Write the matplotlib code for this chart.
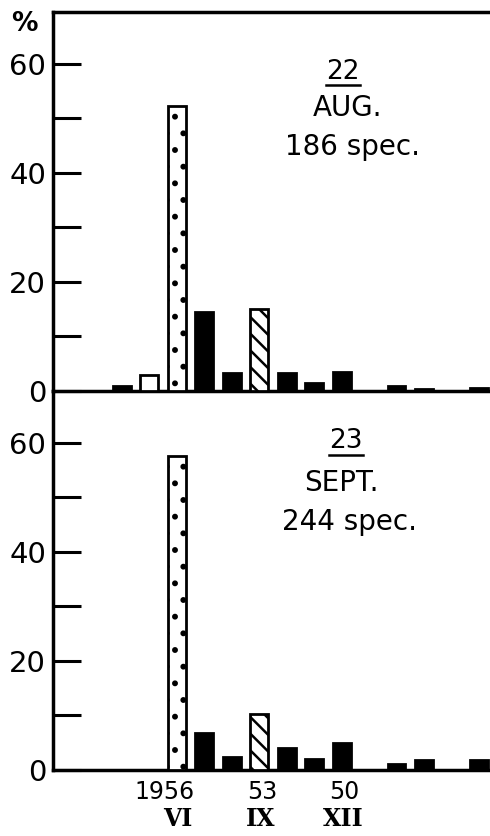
import matplotlib
matplotlib.use("Agg")
import matplotlib.pyplot as plt
from matplotlib.lines import Line2D

plt.rcParams['hatch.linewidth'] = 1.8

# ---- data ----
positions = list(range(14))  # class index along x
aug_values = [1.0, 3.0, 52.3, 14.5, 3.3, 15.0, 3.3, 1.5, 3.5, 0.0, 1.0, 0.4, 0.0, 0.5]
sept_values = [0.0, 0.0, 57.5, 6.8, 2.3, 10.3, 4.0, 2.0, 5.0, 0.0, 1.1, 1.8, 0.0, 1.8]
bar_styles = ['solid', 'open', 'dotted', 'solid', 'solid', 'hatched', 'solid',
              'solid', 'solid', 'solid', 'solid', 'solid', 'solid', 'solid']
yticks_major = [0, 20, 40, 60]
yticks_minor = [10, 30, 50]
year_labels = ['1956', '53', '50']
year_pos = [2, 5, 8]
roman_labels = ['VI', 'IX', 'XII']
panel_titles = [('22', 'AUG.', '186 spec.'), ('23', 'SEPT.', '244 spec.')]

W, H = 490, 836
fig = plt.figure(figsize=(W / 100, H / 100), dpi=100)

left = 53 / W
top_base = 1 - 391 / H
top_top = 1 - 12 / H
bot_base = 1 - 770 / H
axh = top_top - top_base
ax_top = fig.add_axes([left, top_base, 1 - left, axh])
ax_bot = fig.add_axes([left, bot_base, 1 - left, top_base - bot_base])

FONT = 'DejaVu Sans'
style_map = {
    'solid': dict(facecolor='black', edgecolor='black', hatch=None),
    'open': dict(facecolor='white', edgecolor='black', hatch=None),
    'dotted': dict(facecolor='white', edgecolor='black', hatch='.'),
    'hatched': dict(facecolor='white', edgecolor='black', hatch='\\\\'),
}

# (x, y) layout of the three annotation lines per panel, axes-x in data units
anno_layout = [
    dict(num=(8.04, 0.842), ul=0.807, mon=(8.2, 0.747), spec=(8.4, 0.644)),
    dict(num=(8.15, 0.868), ul=0.831, mon=(8.0, 0.757), spec=(8.3, 0.654)),
]

for ax, vals, title, lay in [(ax_top, aug_values, panel_titles[0], anno_layout[0]),
                             (ax_bot, sept_values, panel_titles[1], anno_layout[1])]:
    for p, v, s in zip(positions, vals, bar_styles):
        if v <= 0:
            continue
        st = style_map[s]
        ax.bar(p, v, width=0.65, facecolor=st['facecolor'], edgecolor=st['edgecolor'],
               hatch=st['hatch'], linewidth=2.0, zorder=3)
    ax.set_xlim(-2.5, 13.4)
    ax.set_ylim(0, 69.5)
    ax.set_yticks(yticks_major)
    ax.set_yticklabels([str(t) for t in yticks_major], fontsize=21, family=FONT)
    ax.set_yticks(yticks_minor, minor=True)
    ax.tick_params(axis='y', which='both', direction='in', length=20, width=2.2, pad=5)
    ax.set_xticks([])
    ax.spines['right'].set_visible(False)
    for sp in ['left', 'bottom', 'top']:
        ax.spines[sp].set_linewidth(2.5)
    ax.patch.set_alpha(0)
    tr = ax.get_xaxis_transform()
    ax.text(lay['num'][0], lay['num'][1], title[0], transform=tr, ha='center',
            va='center', fontsize=19, family=FONT)
    ax.add_line(Line2D([lay['num'][0] - 0.62, lay['num'][0] + 0.62], [lay['ul'], lay['ul']],
                       transform=tr, color='black', linewidth=1.8))
    ax.text(lay['mon'][0], lay['mon'][1], title[1], transform=tr, ha='center',
            va='center', fontsize=20, family=FONT)
    ax.text(lay['spec'][0], lay['spec'][1], title[2], transform=tr, ha='center',
            va='center', fontsize=20, family=FONT)

ax_bot.spines['top'].set_visible(False)

# x labels under bottom panel
tr = ax_bot.get_xaxis_transform()
for p, yl, rl in zip(year_pos, year_labels, roman_labels):
    xoff = -0.45 if yl == '1956' else 0.1
    ax_bot.text(p + xoff, -0.058, yl, transform=tr, ha='center', va='center',
                fontsize=17, family=FONT, clip_on=False)
    ax_bot.text(p + 0.05, -0.128, rl, transform=tr, ha='center', va='center',
                fontsize=17, family='DejaVu Serif', weight='bold', clip_on=False)

fig.text(24 / W, 1 - 24 / H, '%', ha='center', va='center', fontsize=19,
         family=FONT, weight='bold')

fig.savefig('out.png', dpi=100)
